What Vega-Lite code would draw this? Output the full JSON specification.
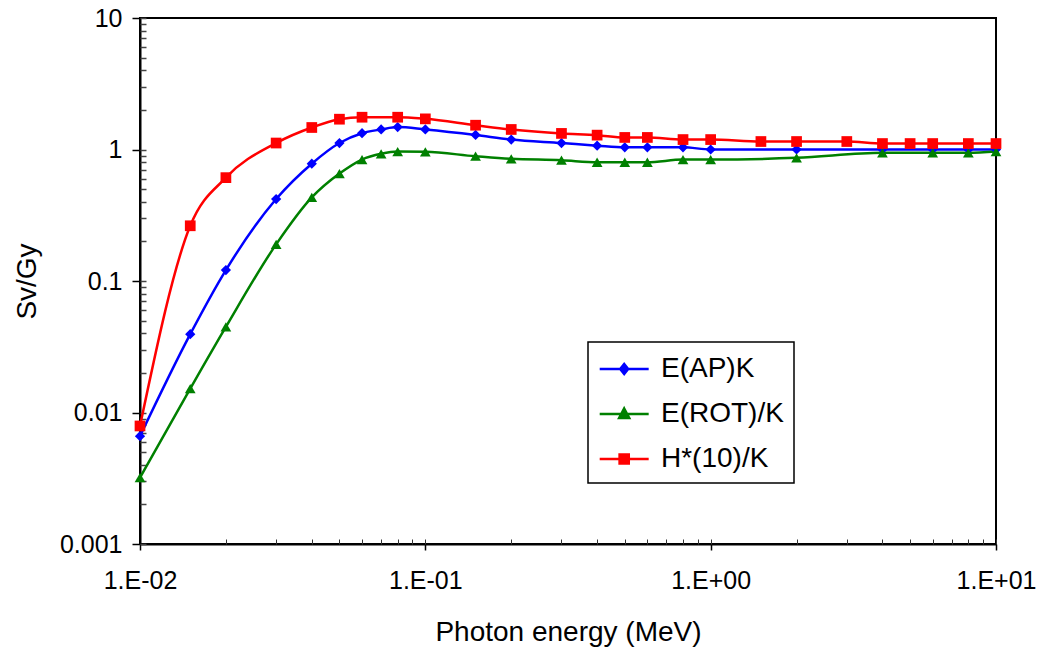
{
  "$schema": "https://vega.github.io/schema/vega-lite/v6.json",
  "autosize": {"type": "none"},
  "width": 856,
  "height": 526,
  "padding": {"left": 140, "top": 18, "right": 44, "bottom": 108},
  "background": "white",
  "config": {
    "view": {"stroke": "#000", "strokeWidth": 2},
    "font": "Liberation Sans",
    "axis": {
      "grid": false,
      "domainColor": "#000",
      "domainWidth": 2,
      "tickColor": "#000",
      "tickWidth": 1.5,
      "labelColor": "#000",
      "titleColor": "#000",
      "labelFont": "Liberation Sans",
      "titleFont": "Liberation Sans",
      "titleFontWeight": "normal",
      "labelFlush": false,
      "labelOverlap": false
    },
    "legend": {
      "title": null,
      "orient": "none",
      "legendX": 448,
      "legendY": 324,
      "strokeColor": "#000",
      "strokeWidth": 1.5,
      "fillColor": "white",
      "padding": 10,
      "labelFont": "Liberation Sans",
      "labelFontSize": 28,
      "labelColor": "#000",
      "symbolSize": 937,
      "symbolStrokeWidth": 2.5,
      "rowPadding": 14,
      "labelOffset": 29
    }
  },
  "data": {
    "values": [
      {"series": "E(AP)K", "energy": 0.01, "value": 0.0066},
      {"series": "E(AP)K", "energy": 0.015, "value": 0.0394},
      {"series": "E(AP)K", "energy": 0.02, "value": 0.121},
      {"series": "E(AP)K", "energy": 0.03, "value": 0.42},
      {"series": "E(AP)K", "energy": 0.04, "value": 0.78},
      {"series": "E(AP)K", "energy": 0.05, "value": 1.12},
      {"series": "E(AP)K", "energy": 0.06, "value": 1.33},
      {"series": "E(AP)K", "energy": 0.07, "value": 1.42},
      {"series": "E(AP)K", "energy": 0.08, "value": 1.48},
      {"series": "E(AP)K", "energy": 0.1, "value": 1.42},
      {"series": "E(AP)K", "energy": 0.15, "value": 1.29},
      {"series": "E(AP)K", "energy": 0.2, "value": 1.19},
      {"series": "E(AP)K", "energy": 0.3, "value": 1.12},
      {"series": "E(AP)K", "energy": 0.4, "value": 1.07},
      {"series": "E(AP)K", "energy": 0.5, "value": 1.04},
      {"series": "E(AP)K", "energy": 0.6, "value": 1.04},
      {"series": "E(AP)K", "energy": 0.8, "value": 1.04},
      {"series": "E(AP)K", "energy": 1, "value": 1.0},
      {"series": "E(AP)K", "energy": 2, "value": 1.0},
      {"series": "E(AP)K", "energy": 4, "value": 1.0},
      {"series": "E(AP)K", "energy": 6, "value": 1.0},
      {"series": "E(AP)K", "energy": 8, "value": 1.0},
      {"series": "E(AP)K", "energy": 10, "value": 1.0},
      {"series": "E(ROT)/K", "energy": 0.01, "value": 0.0032},
      {"series": "E(ROT)/K", "energy": 0.015, "value": 0.0152},
      {"series": "E(ROT)/K", "energy": 0.02, "value": 0.0448},
      {"series": "E(ROT)/K", "energy": 0.03, "value": 0.19},
      {"series": "E(ROT)/K", "energy": 0.04, "value": 0.432},
      {"series": "E(ROT)/K", "energy": 0.05, "value": 0.656},
      {"series": "E(ROT)/K", "energy": 0.06, "value": 0.839},
      {"series": "E(ROT)/K", "energy": 0.07, "value": 0.927},
      {"series": "E(ROT)/K", "energy": 0.08, "value": 0.965},
      {"series": "E(ROT)/K", "energy": 0.1, "value": 0.96},
      {"series": "E(ROT)/K", "energy": 0.15, "value": 0.889},
      {"series": "E(ROT)/K", "energy": 0.2, "value": 0.849},
      {"series": "E(ROT)/K", "energy": 0.3, "value": 0.829},
      {"series": "E(ROT)/K", "energy": 0.4, "value": 0.8},
      {"series": "E(ROT)/K", "energy": 0.5, "value": 0.8},
      {"series": "E(ROT)/K", "energy": 0.6, "value": 0.8},
      {"series": "E(ROT)/K", "energy": 0.8, "value": 0.839},
      {"series": "E(ROT)/K", "energy": 1, "value": 0.839},
      {"series": "E(ROT)/K", "energy": 2, "value": 0.864},
      {"series": "E(ROT)/K", "energy": 4, "value": 0.944},
      {"series": "E(ROT)/K", "energy": 6, "value": 0.944},
      {"series": "E(ROT)/K", "energy": 8, "value": 0.944},
      {"series": "E(ROT)/K", "energy": 10, "value": 0.965},
      {"series": "H*(10)/K", "energy": 0.01, "value": 0.0079},
      {"series": "H*(10)/K", "energy": 0.015, "value": 0.263},
      {"series": "H*(10)/K", "energy": 0.02, "value": 0.611},
      {"series": "H*(10)/K", "energy": 0.03, "value": 1.12},
      {"series": "H*(10)/K", "energy": 0.04, "value": 1.47},
      {"series": "H*(10)/K", "energy": 0.05, "value": 1.7},
      {"series": "H*(10)/K", "energy": 0.06, "value": 1.76},
      {"series": "H*(10)/K", "energy": 0.08, "value": 1.76},
      {"series": "H*(10)/K", "energy": 0.1, "value": 1.71},
      {"series": "H*(10)/K", "energy": 0.15, "value": 1.53},
      {"series": "H*(10)/K", "energy": 0.2, "value": 1.42},
      {"series": "H*(10)/K", "energy": 0.3, "value": 1.325},
      {"series": "H*(10)/K", "energy": 0.4, "value": 1.286},
      {"series": "H*(10)/K", "energy": 0.5, "value": 1.235},
      {"series": "H*(10)/K", "energy": 0.6, "value": 1.235},
      {"series": "H*(10)/K", "energy": 0.8, "value": 1.19},
      {"series": "H*(10)/K", "energy": 1, "value": 1.19},
      {"series": "H*(10)/K", "energy": 1.5, "value": 1.15},
      {"series": "H*(10)/K", "energy": 2, "value": 1.15},
      {"series": "H*(10)/K", "energy": 3, "value": 1.15},
      {"series": "H*(10)/K", "energy": 4, "value": 1.11},
      {"series": "H*(10)/K", "energy": 5, "value": 1.11},
      {"series": "H*(10)/K", "energy": 6, "value": 1.11},
      {"series": "H*(10)/K", "energy": 8, "value": 1.11},
      {"series": "H*(10)/K", "energy": 10, "value": 1.11}
    ]
  },
  "layer": [
    {
      "mark": {"type": "line", "interpolate": "monotone", "strokeWidth": 2.5},
      "encoding": {
        "x": {
          "field": "energy", "type": "quantitative",
          "scale": {"type": "log", "domain": [0.01, 10]},
          "axis": {
            "values": [0.01, 0.1, 1, 10],
            "labelExpr": "datum.value < 0.05 ? '1.E-02' : datum.value < 0.5 ? '1.E-01' : datum.value < 5 ? '1.E+00' : '1.E+01'",
            "labelFontSize": 25,
            "labelPadding": 18,
            "tickSize": 6,
            "title": "Photon energy (MeV)",
            "titleFontSize": 28,
            "titleX": 428,
            "titleY": 88,
            "titleBaseline": "middle",
            "titleAlign": "center"
          }
        },
        "y": {
          "field": "value", "type": "quantitative",
          "scale": {"type": "log", "domain": [0.001, 10]},
          "axis": {
            "values": [0.001, 0.01, 0.1, 1, 10],
            "format": "~g",
            "labelFontSize": 25,
            "labelPadding": 10,
            "tickSize": 8,
            "title": "Sv/Gy",
            "titleFontSize": 28,
            "titleAngle": -90,
            "titleX": -113,
            "titleY": 263,
            "titleBaseline": "middle",
            "titleAlign": "center"
          }
        },
        "color": {
          "field": "series", "type": "nominal",
          "scale": {"domain": ["E(AP)K", "E(ROT)/K", "H*(10)/K"], "range": ["#0000FF", "#008000", "#FF0000"]},
          "legend": {
            "encode": {
              "symbols": {
                "update": {
                  "shape": {"signal": "datum.value === 'E(AP)K' ? 'M-1,0L2.2,0M0.6,-0.33L0.86,0L0.6,0.33L0.34,0Z' : datum.value === 'E(ROT)/K' ? 'M-1,0L2.2,0M0.6,-0.36L0.93,0.26L0.27,0.26Z' : 'M-1,0L2.2,0M0.3,-0.3L0.9,-0.3L0.9,0.3L0.3,0.3Z'"},
                  "fill": {"signal": "datum.value === 'E(AP)K' ? '#0000FF' : datum.value === 'E(ROT)/K' ? '#008000' : '#FF0000'"},
                  "strokeWidth": {"value": 2.5}
                }
              }
            }
          }
        }
      }
    },
    {
      "transform": [{"filter": "datum.series === 'E(AP)K'"}],
      "mark": {"type": "point", "shape": "diamond", "filled": true, "opacity": 1, "size": 105, "color": "#0000FF"},
      "encoding": {
        "x": {
          "field": "energy", "type": "quantitative",
          "scale": {"type": "log", "domain": [0.01, 10]},
          "axis": {
            "orient": "bottom",
            "values": [0.01, 0.02, 0.03, 0.04, 0.05, 0.06, 0.07, 0.08, 0.09, 0.1, 0.2, 0.3, 0.4, 0.5, 0.6, 0.7, 0.8, 0.9, 1, 2, 3, 4, 5, 6, 7, 8, 9, 10],
            "labels": false,
            "domain": false,
            "tickSize": -5,
            "tickWidth": 1,
            "tickColor": "#333",
            "title": null
          }
        },
        "y": {
          "field": "value", "type": "quantitative",
          "scale": {"type": "log", "domain": [0.001, 10]},
          "axis": {
            "orient": "left",
            "values": [0.001, 0.002, 0.003, 0.004, 0.005, 0.006, 0.007, 0.008, 0.009, 0.01, 0.02, 0.03, 0.04, 0.05, 0.06, 0.07, 0.08, 0.09, 0.1, 0.2, 0.3, 0.4, 0.5, 0.6, 0.7, 0.8, 0.9, 1, 2, 3, 4, 5, 6, 7, 8, 9, 10],
            "labels": false,
            "domain": false,
            "tickSize": -6,
            "tickWidth": 1.5,
            "tickColor": "#444",
            "title": null
          }
        }
      }
    },
    {
      "transform": [{"filter": "datum.series === 'E(ROT)/K'"}],
      "mark": {"type": "point", "shape": "triangle-up", "filled": true, "opacity": 1, "size": 115, "color": "#008000"},
      "encoding": {
        "x": {"field": "energy", "type": "quantitative", "scale": {"type": "log", "domain": [0.01, 10]}, "axis": null},
        "y": {"field": "value", "type": "quantitative", "scale": {"type": "log", "domain": [0.001, 10]}, "axis": null}
      }
    },
    {
      "transform": [{"filter": "datum.series === 'H*(10)/K'"}],
      "mark": {"type": "point", "shape": "square", "filled": true, "opacity": 1, "size": 115, "color": "#FF0000"},
      "encoding": {
        "x": {"field": "energy", "type": "quantitative", "scale": {"type": "log", "domain": [0.01, 10]}, "axis": null},
        "y": {"field": "value", "type": "quantitative", "scale": {"type": "log", "domain": [0.001, 10]}, "axis": null}
      }
    }
  ],
  "resolve": {"axis": {"x": "independent", "y": "independent"}}
}
